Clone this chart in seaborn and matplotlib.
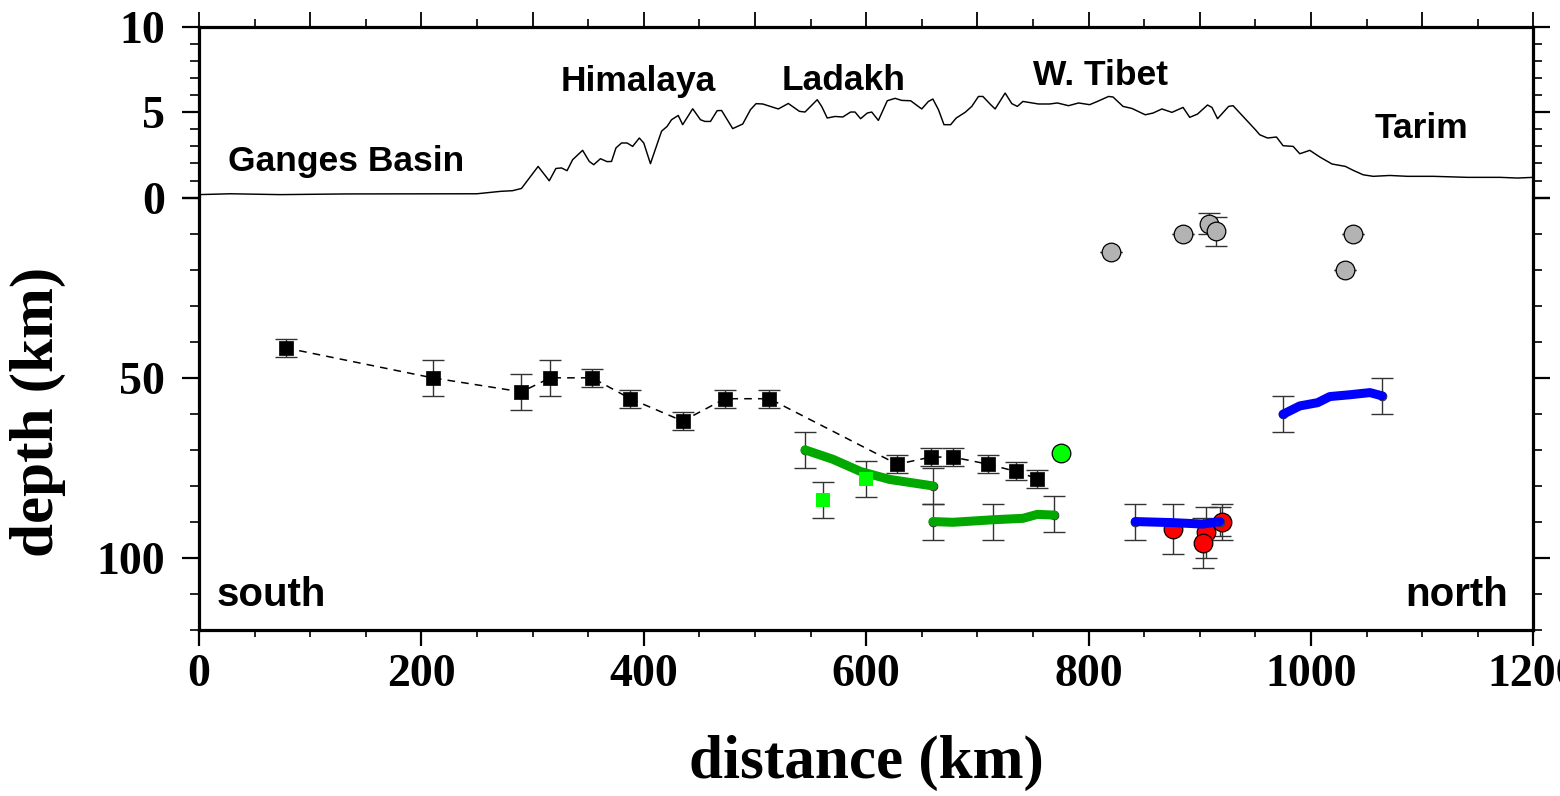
import matplotlib
matplotlib.use("Agg")
import matplotlib.pyplot as plt
from matplotlib.ticker import MultipleLocator, FixedLocator
import seaborn as sns
import pandas as pd

# ---------------- data ----------------
elev_km = [0, 28, 73, 133, 250, 271, 282, 290, 305, 315, 321, 326, 331, 336, 345, 351, 355,
           361, 367, 371, 375, 380, 385, 390, 396, 400, 406, 416, 421, 425, 431, 435, 444,
           451, 455, 460, 466, 470, 480, 489, 496, 501, 507, 521, 530, 540, 545, 556, 560,
           565, 572, 579, 586, 590, 595, 601, 605, 611, 619, 626, 632, 640, 646, 650, 656,
           660, 665, 670, 676, 681, 689, 695, 701, 705, 712, 716, 725, 731, 736, 741, 755,
           765, 772, 782, 791, 801, 808, 818, 822, 831, 839, 851, 858, 866, 875, 885, 891,
           898, 907, 911, 916, 926, 930, 939, 950, 954, 961, 969, 975, 984, 990, 999, 1008,
           1019, 1031, 1038, 1047, 1056, 1071, 1087, 1110, 1141, 1170, 1186, 1200]
elev_val = [0.18, 0.23, 0.18, 0.22, 0.23, 0.37, 0.41, 0.54, 1.83, 0.99, 1.71, 1.74, 1.58, 2.22,
            2.77, 2.12, 1.93, 2.28, 2.11, 2.12, 2.91, 3.20, 3.20, 3.00, 3.49, 3.20, 1.99, 3.89,
            4.17, 4.56, 4.81, 4.27, 5.20, 4.56, 4.46, 4.46, 5.09, 5.10, 4.04, 4.31, 5.15, 5.50,
            5.48, 5.19, 5.51, 5.05, 5.01, 5.73, 5.34, 4.66, 4.75, 4.72, 5.01, 5.01, 4.62, 4.95,
            5.01, 4.52, 5.67, 5.81, 5.69, 5.67, 5.38, 5.19, 5.63, 5.77, 5.15, 4.27, 4.27, 4.66,
            4.99, 5.34, 5.92, 5.92, 5.44, 5.19, 6.12, 5.50, 5.34, 5.63, 5.48, 5.48, 5.54, 5.38,
            5.54, 5.44, 5.63, 5.92, 5.89, 5.34, 5.22, 4.85, 4.95, 5.19, 4.99, 5.28, 4.70, 4.89,
            5.42, 5.28, 4.62, 5.34, 5.38, 4.75, 3.98, 3.68, 3.49, 3.55, 3.04, 3.00, 2.57, 2.77,
            2.38, 1.97, 1.83, 1.60, 1.34, 1.25, 1.30, 1.25, 1.25, 1.19, 1.19, 1.15, 1.19]

moho_km = [78, 210, 290, 316, 353.5, 388, 435, 473, 513, 628, 658, 678, 710, 735, 754]
moho_depth = [41.7, 50, 53.9, 50, 50, 55.8, 62, 55.8, 55.8, 74, 72, 72, 74, 76, 78]
moho_err = [2.4, 5, 5, 5, 2.5, 2.5, 2.4, 2.5, 2.5, 2.5, 2.5, 2.5, 2.5, 2.5, 2.5]

green1_km = [545, 570, 595, 621, 660]
green1_depth = [70, 72.6, 76, 78.2, 80]
green1_err_km = [545, 660]
green1_err_depth = [70, 80]
green1_err = [5, 5]

green2_km = [660, 678, 714, 741, 754, 769]
green2_depth = [89.9, 90.1, 89.4, 89.0, 87.9, 88.1]
green2_err_km = [660, 714, 769]
green2_err_depth = [89.9, 90.0, 87.9]
green2_err = [5, 5, 5]

lime_sq_km = [561, 600]
lime_sq_depth = [83.9, 78]
lime_sq_err = [5, 5]

lime_circ_km = [775]
lime_circ_depth = [70.9]

blue1_km = [842, 876, 903, 918]
blue1_depth = [89.9, 90.2, 90.6, 89.9]
blue1_err_km = [842, 918]
blue1_err_depth = [89.9, 89.9]
blue1_err = [5, 4]

blue2_km = [975, 990, 1006, 1017, 1035, 1053, 1064]
blue2_depth = [60.1, 57.8, 56.9, 55.2, 54.7, 54.1, 55.0]
blue2_err_km = [975, 1064]
blue2_err_depth = [60.1, 55.1]
blue2_err = [5, 5]

red_km = [876, 906, 903, 920]
red_depth = [92.0, 92.9, 95.9, 89.9]
red_err = [7, 7, 7, 5]

gray_km = [820, 885, 908, 915, 1038, 1031]
gray_depth = [15.1, 10.2, 7.2, 9.3, 10.2, 20.2]
gray_err = [0, 0, 3, 4, 0, 0]

region_labels = ["Ganges Basin", "Himalaya", "Ladakh", "W. Tibet", "Tarim"]
region_km = [26, 325.6, 524, 750, 1057]
region_elev = [1.54, 6.22, 6.27, 6.61, 3.49]

x_ticks = [0, 200, 400, 600, 800, 1000, 1200]
elev_ticks = [0, 5, 10]
depth_ticks = [0, 50, 100]
depth_ticklabels = ["", "50", "100"]

# ---------------- style ----------------
sns.set_style("ticks")
plt.rcParams["font.family"] = ["Liberation Serif", "DejaVu Serif"]
plt.rcParams["font.weight"] = "bold"
for k in ["text.color", "axes.labelcolor", "xtick.color", "ytick.color", "axes.edgecolor"]:
    plt.rcParams[k] = "black"

W, H = 1560, 796
fig = plt.figure(figsize=(W / 100, H / 100), dpi=100)
left = 199 / W
width = (1533.3 - 199) / W
ax_top = fig.add_axes([left, 1 - 197.7 / H, width, (197.7 - 26.7) / H])
ax_bot = fig.add_axes([left, 1 - 630 / H, width, (630 - 197.7) / H])

SPW = 2.3
for ax in (ax_top, ax_bot):
    for s in ax.spines.values():
        s.set_linewidth(SPW)
        s.set_color("black")
    ax.set_xlim(0, 1200)
    ax.set_facecolor("white")
ax_top.spines["bottom"].set_visible(False)
ax_bot.spines["top"].set_visible(False)

ax_top.set_ylim(0, 10)
ax_bot.set_ylim(120, 0)

ERR_KW = dict(fmt="none", ecolor="#333333", elinewidth=1.0, capsize=8, capthick=1.0, zorder=2)
SANS = ["Liberation Sans", "DejaVu Sans"]

# ---------------- top panel: topography ----------------
df_elev = pd.DataFrame({"km": elev_km, "elev": elev_val})
sns.lineplot(data=df_elev, x="km", y="elev", ax=ax_top, color="black", linewidth=1.05,
             sort=False, estimator=None)
ax_top.set_xlabel("")
ax_top.set_ylabel("")
for lab, xk, yk in zip(region_labels, region_km, region_elev):
    ax_top.text(xk, yk, lab, family=SANS, fontweight="bold", fontsize=25.5,
                ha="left", va="baseline", color="black")

# ---------------- bottom panel ----------------
ax = ax_bot
ax.errorbar(moho_km, moho_depth, yerr=moho_err, **ERR_KW)
ax.errorbar(green1_err_km, green1_err_depth, yerr=green1_err, **ERR_KW)
ax.errorbar(green2_err_km, green2_err_depth, yerr=green2_err, **ERR_KW)
ax.errorbar(lime_sq_km, lime_sq_depth, yerr=lime_sq_err, **ERR_KW)
ax.errorbar(blue1_err_km, blue1_err_depth, yerr=blue1_err, **ERR_KW)
ax.errorbar(blue2_err_km, blue2_err_depth, yerr=blue2_err, **ERR_KW)
ax.errorbar(red_km, red_depth, yerr=red_err, **ERR_KW)
ax.errorbar(gray_km, gray_depth, yerr=gray_err, **ERR_KW)

df_moho = pd.DataFrame({"km": moho_km, "depth": moho_depth})
sns.lineplot(data=df_moho, x="km", y="depth", ax=ax, color="black", linewidth=1.1,
             linestyle=(0, (5, 4)), sort=False, estimator=None, zorder=3)
sns.scatterplot(data=df_moho, x="km", y="depth", ax=ax, marker="s", s=100, color="black",
                edgecolor="black", linewidth=0.5, zorder=4)

sns.scatterplot(x=red_km, y=red_depth, ax=ax, marker="o", s=180, color="#ff0000",
                edgecolor="black", linewidth=0.9, zorder=4)

for km_l, d_l, col in [(green1_km, green1_depth, "#00a800"),
                       (green2_km, green2_depth, "#00a800"),
                       (blue1_km, blue1_depth, "#0000ff"),
                       (blue2_km, blue2_depth, "#0000ff")]:
    sns.scatterplot(x=[km_l[0], km_l[-1]], y=[d_l[0], d_l[-1]], ax=ax, marker="o", s=40,
                    color="#505050", edgecolor="#303030", linewidth=0.6, zorder=4.5)
    sns.lineplot(x=km_l, y=d_l, ax=ax, color=col, linewidth=6.5, sort=False,
                 estimator=None, zorder=5)

sns.scatterplot(x=lime_sq_km, y=lime_sq_depth, ax=ax, marker="s", s=100, color="#00ff00",
                edgecolor="#00ff00", linewidth=0, zorder=6)
sns.scatterplot(x=lime_circ_km, y=lime_circ_depth, ax=ax, marker="o", s=180, color="#00ff00",
                edgecolor="black", linewidth=0.9, zorder=6)
sns.scatterplot(x=gray_km, y=gray_depth, ax=ax, marker="o", s=180, color="#b3b3b3",
                edgecolor="black", linewidth=0.9, zorder=6)

ax.set_xlabel("")
ax.set_ylabel("")
ax.text(15.9, 113.3, "south", family=SANS, fontweight="bold", fontsize=29,
        ha="left", va="baseline", color="black")
ax.text(1177, 113.3, "north", family=SANS, fontweight="bold", fontsize=29,
        ha="right", va="baseline", color="black")

# ---------------- ticks ----------------
TFS = 33
ax_top.xaxis.set_major_locator(MultipleLocator(100))
ax_top.xaxis.set_minor_locator(MultipleLocator(50))
ax_top.tick_params(axis="x", which="both", bottom=False, top=True, labelbottom=False,
                   labeltop=False, direction="out", color="black")
ax_top.tick_params(axis="x", which="major", length=11, width=1.3)
ax_top.tick_params(axis="x", which="minor", length=5.5, width=1.2)
ax_top.yaxis.set_major_locator(FixedLocator(elev_ticks))
ax_top.yaxis.set_minor_locator(MultipleLocator(1))
ax_top.set_yticklabels([str(t) for t in elev_ticks])
ax_top.tick_params(axis="y", which="both", left=True, right=True, direction="out",
                   color="black", labelcolor="black")
ax_top.tick_params(axis="y", which="major", length=12.5, width=1.6, labelsize=TFS, pad=12)
ax_top.tick_params(axis="y", which="minor", length=6.5, width=1.2)

ax_bot.xaxis.set_major_locator(FixedLocator(x_ticks))
ax_bot.xaxis.set_minor_locator(MultipleLocator(50))
ax_bot.set_xticklabels([str(t) for t in x_ticks])
ax_bot.tick_params(axis="x", which="both", bottom=True, top=False, direction="out",
                   color="black", labelcolor="black")
ax_bot.tick_params(axis="x", which="major", length=11.3, width=1.6, labelsize=TFS, pad=6)
ax_bot.tick_params(axis="x", which="minor", length=5.2, width=1.2)
ax_bot.yaxis.set_major_locator(FixedLocator(depth_ticks))
ax_bot.yaxis.set_minor_locator(MultipleLocator(10))
ax_bot.set_yticklabels(depth_ticklabels)
ax_bot.tick_params(axis="y", which="both", left=True, right=True, direction="out",
                   color="black", labelcolor="black")
ax_bot.tick_params(axis="y", which="major", length=12.5, width=1.6, labelsize=TFS, pad=12)
ax_bot.tick_params(axis="y", which="minor", length=6.5, width=1.2)

for a in (ax_top, ax_bot):
    for lbl in a.get_xticklabels() + a.get_yticklabels():
        lbl.set_fontweight("bold")
        lbl.set_family(["Liberation Serif", "DejaVu Serif"])
        lbl.set_color("black")

fig.text(37.5 / W, 1 - 412 / H, "depth (km)", rotation=90, ha="center", va="center",
         fontsize=44, fontweight="bold", family=["Liberation Serif", "DejaVu Serif"],
         color="black")
fig.text(866 / W, 1 - 778 / H, "distance (km)", ha="center", va="baseline",
         fontsize=44, fontweight="bold", family=["Liberation Serif", "DejaVu Serif"],
         color="black")

fig.savefig("out.png", dpi=100, facecolor="white")
